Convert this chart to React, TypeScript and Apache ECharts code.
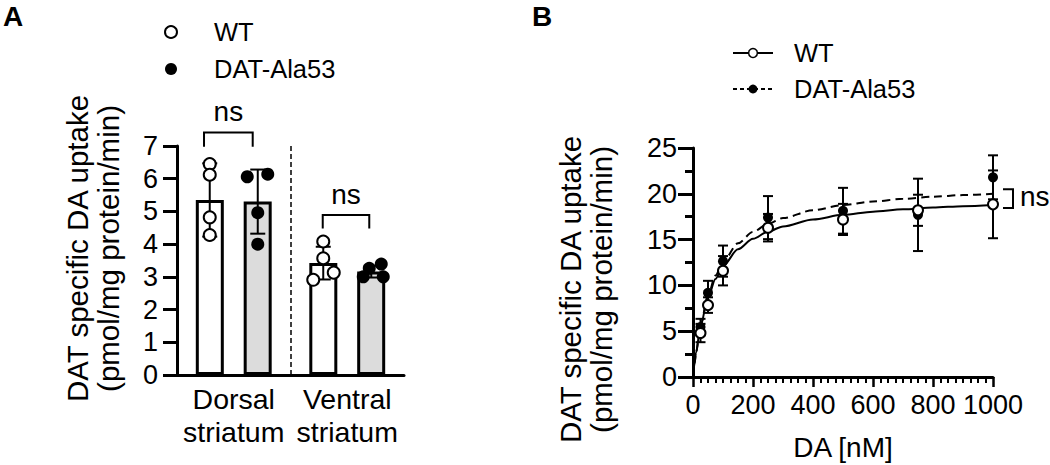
import React, { useEffect, useRef } from 'react';
import * as echarts from 'echarts';

const FONT = '"Liberation Sans", Arial, Helvetica, sans-serif';

// ---------- Panel A data ----------
const regions = ['Dorsal\nstriatum', 'Ventral\nstriatum'];
const wtMeanA = [5.35, 3.42];
const datMeanA = [5.3, 3.16];
const wtSdA = [1.12, 0.5];
const datSdA = [0.98, 0.18];
const wtDorsal = [6.45, 6.12, 4.82, 4.28];
const wtVentral = [4.08, 3.57, 2.91, 3.13];
const datDorsal = [6.06, 6.14, 4.96, 4.0];
const datVentral = [3.0, 3.26, 3.39, 3.0];
// horizontal scatter of the individual dots (px)
const wtDorsalJitter = [0, 0, 0, 0];
const wtVentralJitter = [0, 0, -10, 10.5];
const datDorsalJitter = [-10.5, 10, 0, 0];
const datVentralJitter = [-8, -2, 10, 12];
const nsLabel = 'ns';

// ---------- Panel B data ----------
const daConc = [25, 50, 100, 250, 500, 750, 1000];
const wtUptake = [4.8, 7.85, 11.6, 16.3, 17.2, 18.2, 18.85];
const wtErr = [1.0, 0.85, 1.6, 1.5, 1.7, 1.7, 3.7];
const datUptake = [5.45, 9.2, 12.65, 17.4, 18.15, 17.7, 21.8];
const datErr = [0.9, 1.3, 1.7, 2.35, 2.5, 3.95, 2.4];
// fitted curves
const fitX = [0, 5, 10, 25, 50, 75, 100, 150, 200, 250, 300, 400, 500, 600, 700, 800, 900, 1000];
const wtFit = [0, 1.43, 2.67, 5.56, 8.7, 10.71, 12.12, 13.95, 15.09, 15.87, 16.44, 17.2, 17.7, 18.05, 18.3, 18.5, 18.65, 18.78];
const datFit = [0, 1.43, 2.68, 5.63, 8.92, 11.07, 12.59, 14.59, 15.85, 16.72, 17.35, 18.21, 18.77, 19.16, 19.45, 19.68, 19.86, 20.0];
const nsBracketB = [[1000, 20.5, 18.45]];

const yTitle = 'DAT specific DA uptake\n(pmol/mg protein/min)';

// layout helpers for panel A (hidden value axis 0..2, one unit per category)
const BAND_PX = 113.5;
const wtXA = [0.2885, 1.2885];
const datXA = [0.7115, 1.7115];
const bracketsA = [
  [0.238, 0.667, 7.41, 6.98],
  [1.284, 1.694, 4.89, 4.48],
];

function pts(x: number, vals: number[], jit: number[]) {
  return vals.map((v, i) => [x + jit[i] / BAND_PX, v]);
}

function errorItem(cap: number, lw: number) {
  return (params: any, api: any) => {
    const x = api.value(0);
    const m = api.value(1);
    const s = api.value(2);
    const t = api.coord([x, m + s]);
    const b = api.coord([x, m - s]);
    const st = { stroke: '#000', lineWidth: lw };
    return {
      type: 'group',
      children: [
        { type: 'line', shape: { x1: t[0], y1: t[1], x2: b[0], y2: b[1] }, style: st },
        { type: 'line', shape: { x1: t[0] - cap, y1: t[1], x2: t[0] + cap, y2: t[1] }, style: st },
        { type: 'line', shape: { x1: b[0] - cap, y1: b[1], x2: b[0] + cap, y2: b[1] }, style: st },
      ],
    };
  };
}

export default function App() {
  const ref = useRef<HTMLDivElement>(null);
  useEffect(() => {
    if (!ref.current) return;
    const chart = echarts.init(ref.current, undefined, { renderer: 'svg' });
    const black = '#000';
    const option: any = {
      animation: false,
      textStyle: { fontFamily: FONT, color: black },
      grid: [
        { left: 177, top: 146, width: 227, height: 229 },
        { left: 693, top: 148, width: 300, height: 229 },
      ],
      legend: [
        {
          orient: 'vertical',
          left: 164,
          top: 18,
          padding: 0,
          itemWidth: 12,
          itemHeight: 12,
          itemGap: 9,
          icon: 'circle',
          selectedMode: false,
          textStyle: { fontSize: 25.5, color: black, lineHeight: 28, fontFamily: FONT, padding: [0, 0, 0, 32] },
          data: [
            { name: 'WT', itemStyle: { color: '#fff', borderColor: black, borderWidth: 2, opacity: 1 } },
            { name: 'DAT-Ala53', itemStyle: { color: black, borderWidth: 0, opacity: 1 } },
          ],
        },
        {
          orient: 'vertical',
          left: 732,
          top: 39,
          padding: 0,
          itemWidth: 40,
          itemHeight: 11,
          itemGap: 8,
          selectedMode: false,
          formatter: (n: string) => n.replace(' fit', ''),
          textStyle: { fontSize: 25.5, color: black, lineHeight: 28, fontFamily: FONT, padding: [0, 0, 0, 16] },
          data: [
            {
              name: 'WT fit',
              itemStyle: { color: '#fff', borderColor: black, borderWidth: 1.5, opacity: 1 },
              lineStyle: { color: black, width: 2, type: 'solid' },
            },
            {
              name: 'DAT-Ala53 fit',
              itemStyle: { color: black, borderWidth: 0, opacity: 1 },
              lineStyle: { color: black, width: 2, type: [4, 3] },
            },
          ],
        },
      ],
      xAxis: [
        {
          type: 'category',
          gridIndex: 0,
          data: regions,
          axisLine: { lineStyle: { color: black, width: 3 } },
          axisTick: { show: false },
          axisLabel: { fontSize: 28.5, lineHeight: 33, color: black, margin: 7, interval: 0, fontFamily: FONT },
        },
        { type: 'value', gridIndex: 0, min: 0, max: 2, show: false },
        {
          type: 'value',
          gridIndex: 1,
          min: 0,
          max: 1000,
          interval: 200,
          axisLine: { show: true, lineStyle: { color: black, width: 3 } },
          axisTick: { show: true, length: 10, lineStyle: { color: black, width: 2.5 } },
          minorTick: { show: true, splitNumber: 8, length: 6, lineStyle: { color: black, width: 2 } },
          splitLine: { show: false },
          axisLabel: { fontSize: 27, color: black, margin: 14, fontFamily: FONT, formatter: (v: number) => String(v) },
          name: 'DA [nM]',
          nameLocation: 'middle',
          nameGap: 56,
          nameTextStyle: { fontSize: 28, color: black, fontFamily: FONT },
        },
      ],
      yAxis: [
        {
          type: 'value',
          gridIndex: 0,
          min: 0,
          max: 7,
          interval: 1,
          axisLine: { show: true, lineStyle: { color: black, width: 3 } },
          axisTick: { show: true, length: 14, lineStyle: { color: black, width: 3 } },
          splitLine: { show: false },
          axisLabel: { fontSize: 27, color: black, margin: 19, fontFamily: FONT },
          name: yTitle,
          nameLocation: 'middle',
          nameRotate: 90,
          nameGap: 53,
          nameTextStyle: { fontSize: 29.5, lineHeight: 31, color: black, fontFamily: FONT, padding: [0, 0, 0, 24] },
        },
        {
          type: 'value',
          gridIndex: 1,
          min: 0,
          max: 25,
          interval: 5,
          axisLine: { show: true, lineStyle: { color: black, width: 3 } },
          axisTick: { show: true, length: 15, lineStyle: { color: black, width: 3 } },
          minorTick: { show: true, splitNumber: 2, length: 8, lineStyle: { color: black, width: 3 } },
          splitLine: { show: false },
          axisLabel: { fontSize: 27, color: black, margin: 16, fontFamily: FONT },
          name: yTitle,
          nameLocation: 'middle',
          nameRotate: 90,
          nameGap: 76,
          nameTextStyle: { fontSize: 29.5, lineHeight: 31, color: black, fontFamily: FONT, padding: [0, 54, 0, 0] },
        },
      ],
      graphic: [
        { type: 'text', left: 3, top: 2, style: { text: 'A', fontSize: 28, fontWeight: 'bold', fill: black, fontFamily: FONT } },
        { type: 'text', left: 532, top: 2, style: { text: 'B', fontSize: 28, fontWeight: 'bold', fill: black, fontFamily: FONT } },
      ],
      series: [
        {
          name: 'WT mean',
          type: 'bar',
          xAxisIndex: 0,
          yAxisIndex: 0,
          data: wtMeanA,
          barWidth: 28,
          z: 1,
          itemStyle: { color: '#fff', borderColor: black, borderWidth: 3 },
        },
        {
          name: 'DAT-Ala53 mean',
          type: 'bar',
          xAxisIndex: 0,
          yAxisIndex: 0,
          data: datMeanA,
          barWidth: 28,
          barGap: '71%',
          z: 1,
          itemStyle: { color: '#dcdcdc', borderColor: black, borderWidth: 3 },
        },
        {
          name: 'A error bars',
          type: 'custom',
          xAxisIndex: 1,
          yAxisIndex: 0,
          z: 2,
          clip: false,
          renderItem: errorItem(7.5, 2),
          encode: { x: 0, y: 1 },
          data: [
            ...wtXA.map((x, i) => [x, wtMeanA[i], wtSdA[i]]),
            ...datXA.map((x, i) => [x, datMeanA[i], datSdA[i]]),
          ],
          markLine: {
            silent: true,
            symbol: ['none', 'none'],
            label: { show: false },
            lineStyle: { color: black, type: [5, 3], width: 1.5 },
            data: [{ xAxis: 1 }],
          },
        },
        {
          name: 'WT',
          type: 'scatter',
          xAxisIndex: 1,
          yAxisIndex: 0,
          z: 3,
          symbol: 'circle',
          symbolSize: 12,
          itemStyle: { color: '#fff', borderColor: black, borderWidth: 2, opacity: 1 },
          data: [...pts(wtXA[0], wtDorsal, wtDorsalJitter), ...pts(wtXA[1], wtVentral, wtVentralJitter)],
        },
        {
          name: 'DAT-Ala53',
          type: 'scatter',
          xAxisIndex: 1,
          yAxisIndex: 0,
          z: 3,
          symbol: 'circle',
          symbolSize: 13,
          itemStyle: { color: black, opacity: 1 },
          data: [...pts(datXA[0], datDorsal, datDorsalJitter), ...pts(datXA[1], datVentral, datVentralJitter)],
        },
        {
          name: 'A significance',
          type: 'custom',
          xAxisIndex: 1,
          yAxisIndex: 0,
          z: 3,
          clip: false,
          encode: { x: [0, 1], y: [2, 3] },
          data: bracketsA,
          renderItem: (params: any, api: any) => {
            const x1 = api.value(0), x2 = api.value(1), yt = api.value(2), yl = api.value(3);
            const a = api.coord([x1, yl]);
            const b = api.coord([x1, yt]);
            const c = api.coord([x2, yt]);
            const d = api.coord([x2, yl]);
            return {
              type: 'group',
              children: [
                { type: 'polyline', shape: { points: [a, b, c, d] }, style: { stroke: black, lineWidth: 2, fill: 'none' } },
                {
                  type: 'text',
                  x: (b[0] + c[0]) / 2,
                  y: b[1] - 21,
                  style: { text: nsLabel, fontSize: 28, fill: black, align: 'center', verticalAlign: 'middle', fontFamily: FONT },
                },
              ],
            };
          },
        },
        {
          name: 'WT fit',
          type: 'line',
          xAxisIndex: 2,
          yAxisIndex: 1,
          z: 1,
          symbol: 'none',
          smooth: 0.3,
          smoothMonotone: 'x',
          lineStyle: { color: black, width: 2 },
          itemStyle: { color: '#fff', borderColor: black },
          data: fitX.map((x, i) => [x, wtFit[i]]),
        },
        {
          name: 'DAT-Ala53 fit',
          type: 'line',
          xAxisIndex: 2,
          yAxisIndex: 1,
          z: 1,
          symbol: 'none',
          smooth: 0.3,
          smoothMonotone: 'x',
          lineStyle: { color: black, width: 2, type: [8, 5] },
          itemStyle: { color: black },
          data: fitX.map((x, i) => [x, datFit[i]]),
        },
        {
          name: 'B error bars',
          type: 'custom',
          xAxisIndex: 2,
          yAxisIndex: 1,
          z: 2,
          clip: false,
          renderItem: errorItem(5, 2),
          encode: { x: 0, y: 1 },
          data: [
            ...daConc.map((x, i) => [x, datUptake[i], datErr[i]]),
            ...daConc.map((x, i) => [x, wtUptake[i], wtErr[i]]),
          ],
        },
        {
          name: 'DAT-Ala53 points',
          type: 'scatter',
          xAxisIndex: 2,
          yAxisIndex: 1,
          z: 3,
          symbol: 'circle',
          symbolSize: 10,
          itemStyle: { color: black, opacity: 1 },
          data: daConc.map((x, i) => [x, datUptake[i]]),
        },
        {
          name: 'WT points',
          type: 'scatter',
          xAxisIndex: 2,
          yAxisIndex: 1,
          z: 4,
          symbol: 'circle',
          symbolSize: 10,
          itemStyle: { color: '#fff', borderColor: black, borderWidth: 2, opacity: 1 },
          data: daConc.map((x, i) => [x, wtUptake[i]]),
        },
        {
          name: 'B significance',
          type: 'custom',
          xAxisIndex: 2,
          yAxisIndex: 1,
          z: 3,
          clip: false,
          encode: { x: 0, y: [1, 2] },
          data: nsBracketB,
          renderItem: (params: any, api: any) => {
            const t = api.coord([api.value(0), api.value(1)]);
            const b = api.coord([api.value(0), api.value(2)]);
            const x0 = t[0] + 10;
            const x1 = t[0] + 20;
            return {
              type: 'group',
              children: [
                {
                  type: 'polyline',
                  shape: { points: [[x0, t[1]], [x1, t[1]], [x1, b[1]], [x0, b[1]]] },
                  style: { stroke: black, lineWidth: 2, fill: 'none' },
                },
                {
                  type: 'text',
                  x: x1 + 7,
                  y: (t[1] + b[1]) / 2 - 2,
                  style: { text: nsLabel, fontSize: 28, fill: black, align: 'left', verticalAlign: 'middle', fontFamily: FONT },
                },
              ],
            };
          },
        },
      ],
    };
    chart.setOption(option);
    return () => chart.dispose();
  }, []);
  return (
    <div
      ref={ref}
      style={{ position: 'fixed', left: 0, top: 0, width: 1050, height: 465, background: '#fff' }}
    />
  );
}
